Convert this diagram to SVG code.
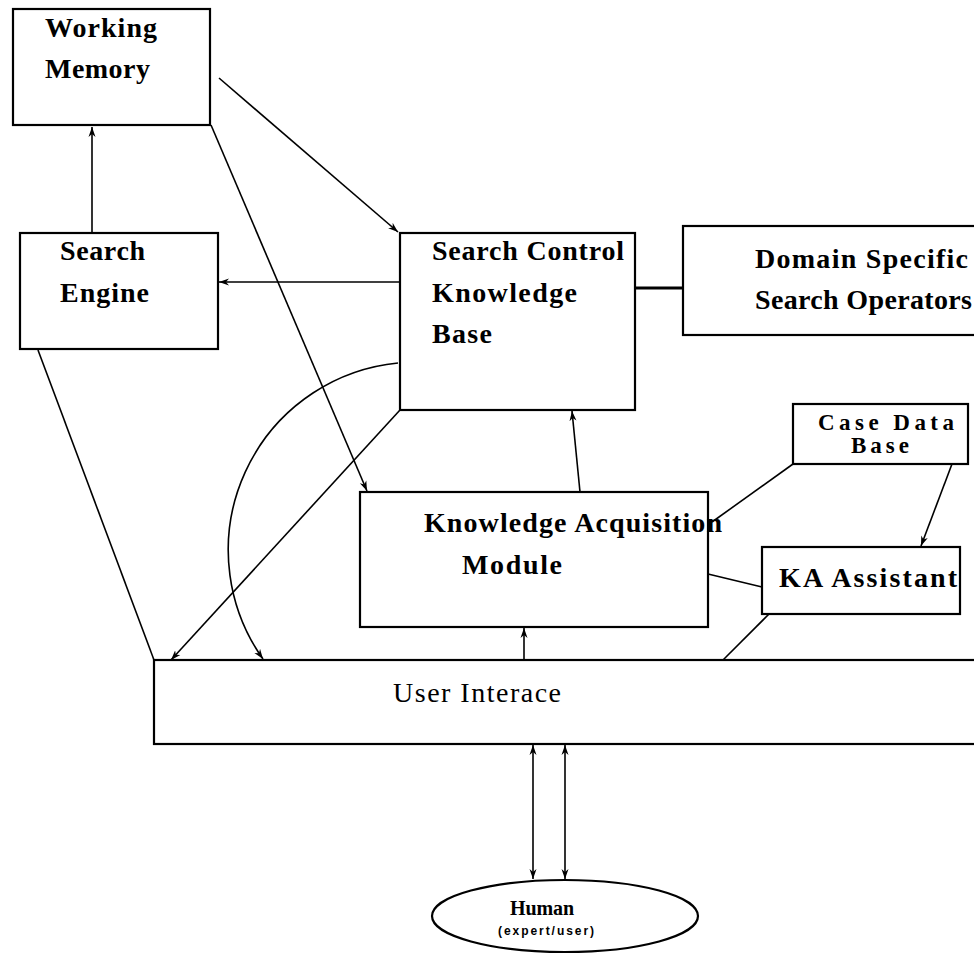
<svg xmlns="http://www.w3.org/2000/svg" width="974" height="954" viewBox="0 0 974 954">
<defs>
<style>
.box{fill:#fff;stroke:#000;stroke-width:2.2}
.t{font-family:"Liberation Serif","Times New Roman",serif;font-weight:bold;font-size:28px;fill:#000}
.c{fill:none;stroke:#000;stroke-width:1.6}
</style>
<marker id="ah" markerUnits="userSpaceOnUse" markerWidth="10" markerHeight="8" refX="10" refY="4" orient="auto-start-reverse">
<path d="M0,0.5 L10,4 L0,7.5 L3,4 z" fill="#000"/>
</marker>
</defs>
<rect width="974" height="954" fill="#fff"/>
<g id="connectors">
<path class="c" d="M92,233 L92,127" marker-end="url(#ah)"/>
<path class="c" d="M400,282 L219,282" marker-end="url(#ah)"/>
<path class="c" d="M219,78 L398,232" marker-end="url(#ah)"/>
<path class="c" d="M211,125 L367,491" marker-end="url(#ah)"/>
<path class="c" d="M635,288 L683,288" style="stroke-width:3"/>
<path class="c" d="M580,492 L572,411" marker-end="url(#ah)"/>
<path class="c" d="M793,464 L712,522"/>
<path class="c" d="M952,464 L921,546" marker-end="url(#ah)"/>
<path class="c" d="M708,574 L762,587"/>
<path class="c" d="M769,614 L723,660"/>
<path class="c" d="M38,350 L154,660"/>
<path class="c" d="M400,410 L171,660" marker-end="url(#ah)"/>
<path class="c" d="M398,363 A188,188 0 0 0 263,659" marker-end="url(#ah)"/>
<path class="c" d="M524,660 L524,628" marker-end="url(#ah)"/>
<path class="c" d="M533,745 L533,879" marker-start="url(#ah)" marker-end="url(#ah)"/>
<path class="c" d="M565,745 L565,879" marker-start="url(#ah)" marker-end="url(#ah)"/>
</g>
<g id="working-memory">
<rect class="box" x="13" y="9" width="197" height="116"/>
<text class="t" x="45" y="37" textLength="112">Working</text>
<text class="t" x="45" y="78" textLength="105">Memory</text>
</g>
<g id="search-engine">
<rect class="box" x="20" y="233" width="198" height="116"/>
<text class="t" x="60" y="260" textLength="85">Search</text>
<text class="t" x="60" y="302" textLength="89">Engine</text>
</g>
<g id="search-control-kb">
<rect class="box" x="400" y="233" width="235" height="177"/>
<text class="t" x="432" y="260" textLength="192">Search Control</text>
<text class="t" x="432" y="302" textLength="145">Knowledge</text>
<text class="t" x="432" y="343" textLength="60">Base</text>
</g>
<g id="domain-specific">
<rect class="box" x="683" y="226" width="300" height="109"/>
<text class="t" x="755" y="268" textLength="213">Domain Specific</text>
<text class="t" x="755" y="309" textLength="217">Search Operators</text>
</g>
<g id="case-data-base">
<rect class="box" x="793" y="404" width="175" height="60"/>
<text class="t" x="818" y="430" style="font-size:23px" textLength="136">Case  Data</text>
<text class="t" x="851" y="453" style="font-size:23px" textLength="58">Base</text>
</g>
<g id="ka-module">
<rect class="box" x="360" y="492" width="348" height="135"/>
<text class="t" x="424" y="532" textLength="298">Knowledge Acquisition</text>
<text class="t" x="462" y="574" textLength="100">Module</text>
</g>
<g id="ka-assistant">
<rect class="box" x="762" y="547" width="198" height="67"/>
<text class="t" x="779" y="587" textLength="178">KA  Assistant</text>
</g>
<g id="user-interface">
<rect class="box" x="154" y="660" width="830" height="84"/>
<text class="t" x="393" y="702" style="font-weight:normal;font-size:28px" textLength="168">User Interace</text>
</g>
<g id="human">
<ellipse class="box" cx="565" cy="916" rx="133" ry="36"/>
<text class="t" x="510" y="915" style="font-size:20px" textLength="64">Human</text>
<text x="498" y="935" style="font-family:'Liberation Sans',Arial,sans-serif;font-weight:bold;font-size:12px" textLength="96">(expert/user)</text>
</g>
</svg>
